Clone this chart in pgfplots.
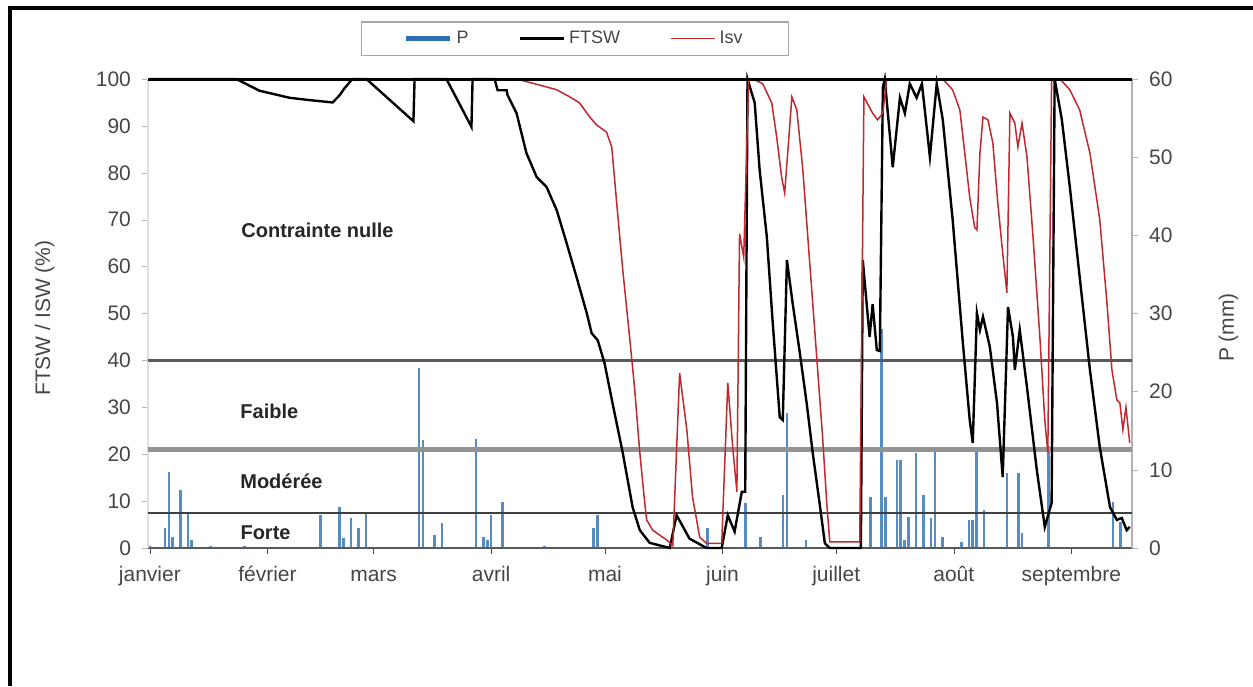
\documentclass[border=0pt]{standalone}
\usepackage{fontspec}
\setmainfont{Liberation Sans}
\usepackage{pgfplots}
\pgfplotsset{compat=1.18}

\definecolor{pblue}{RGB}{45,110,180}
\definecolor{isvred}{RGB}{192,40,45}
\definecolor{txtgray}{RGB}{70,70,70}

\begin{document}
\begin{tikzpicture}
  % jours comptés depuis le 1er janvier
  \pgfplotsset{
    base/.style={
      scale only axis, width=492pt, height=234.5pt,
      xmin=-0.5, xmax=259,
      /pgf/number format/assume math mode=true,
      tick label style={font=\fontsize{10.5}{12}\selectfont, text=txtgray},
      label style={font=\fontsize{10.5}{12}\selectfont, text=txtgray},
      tick align=outside, major tick length=3pt,
    }
  }
  % P (mm), axe de droite
  \begin{axis}[base,
      axis y line*=right, axis x line*=bottom,
      ymin=0, ymax=60, ytick={0,10,...,60},
      xtick={0,31,59,90,120,151,181,212,243},
      xticklabels={janvier,février,mars,avril,mai,juin,juillet,août,septembre},
      x axis line style={black!65, line width=0.8pt},
      y axis line style={gray!60, line width=0.8pt},
      xtick style={black!70}, ytick style={gray!60},
      yticklabel style={xshift=2pt},
      xticklabel style={yshift=-2pt, text height=1.6ex, text depth=0.4ex},
      ylabel={P (mm)},
      ylabel style={at={(axis description cs:1.098,0.47)}, anchor=center},
    ]
    \addplot[ycomb, pblue, opacity=0.8, line width=1.3pt] coordinates {
      (0,0.3) (4,2.6) (5,9.7) (6,1.4) (8,7.4) (10,4.5) (11,1.0) (16,0.2)
      (25,0.2) (45,4.2) (50,5.2) (51,1.3) (53,3.8) (55,2.6) (57,4.5)
      (71,23.0) (72,13.8) (75,1.7) (77,3.2) (86,14.0) (88,1.4) (89,1.0)
      (90,4.2) (93,5.9) (104,0.3) (117,2.6) (118,4.2) (147,2.6) (157,5.8)
      (161,1.4) (167,6.8) (168,17.3) (173,1.0) (190,6.5) (193,28.0)
      (194,6.5) (197,11.3) (198,11.3) (199,1.0) (200,4.0) (202,12.1)
      (204,6.8) (206,3.8) (207,12.5) (209,1.4) (214,0.8) (216,3.6)
      (217,3.6) (218,12.5) (220,4.9) (226,9.6) (229,9.6) (230,1.9)
      (237,13.0) (254,5.9) (256,3.3)
    };
  \end{axis}
  % FTSW et Isv (%), axe de gauche
  \begin{axis}[base,
      axis y line*=left, axis x line=none,
      ymin=0, ymax=100, ytick={0,10,...,100},
      y axis line style={gray!25, line width=0.8pt},
      ytick style={gray!60},
      yticklabel style={xshift=-2pt},
      clip=false,
      ylabel={FTSW / ISW (\%)},
      ylabel style={at={(axis description cs:-0.105,0.49)}, anchor=center},
      legend columns=3,
      legend image code/.code={\draw[#1] (0pt,0pt) -- (22pt,0pt);},
      legend style={at={(0.434,1.086)}, anchor=center,
        draw=gray!70, line width=0.8pt,
        font=\fontsize{9}{10}\selectfont, text=txtgray,
        inner xsep=21pt, inner ysep=2.5pt,
        /tikz/every even column/.append style={column sep=23pt}},
    ]
    \addlegendimage{pblue, line width=2.5pt}
    \addlegendentry{P}
    % seuils de contrainte
    \addplot[forget plot, black!65, line width=1.4pt] coordinates {(-0.5,40) (259,40)};
    \addplot[forget plot, gray!85, line width=2.8pt] coordinates {(-0.5,21) (259,21)};
    \addplot[forget plot, black!75, line width=0.8pt] coordinates {(-0.5,7.5) (259,7.5)};
    \addplot[black, line width=1.2pt] coordinates {
      (0,100) (22.8,100) (28.9,97.5) (36.8,96) (42.1,95.5) (48.2,95)
      (50.0,96.5) (51.3,98) (53.4,100) (57.1,100) (69.5,91) (69.8,100)
      (78.2,100) (84.8,89.8) (85.1,100) (90.9,100) (91.7,97.6) (94.1,97.6)
      (94.3,96.6) (96.7,92.7) (99.3,84.2) (102.0,79.1) (104.6,77)
      (107.3,72) (109.9,65) (112.5,57.8) (115.2,50.1) (116.5,45.8)
      (118.1,44.3) (119.9,39.4) (122.0,30.9) (124.7,20.3) (127.3,8.7)
      (129.2,3.8) (131.8,1.1) (137.1,0) (138.9,7) (142.3,2) (146.8,0)
      (150.8,0) (152.4,7) (154.2,3.5) (156.1,12) (157.0,12) (157.6,100)
      (159.5,94.9) (160.8,80.6) (162.7,66.3) (164.2,48.6) (166.1,27.9)
      (166.9,27.3) (168.0,61.4) (169.5,52.2) (171.4,41.6) (173.2,30.9)
      (174.8,20.3) (176.6,9.6) (178.0,1) (179.3,0) (187.5,0) (188.0,61.4)
      (189.8,45) (190.6,52) (191.7,42.2) (192.5,42) (193.3,98.3)
      (193.8,100) (195.9,81.2) (197.8,96) (199.1,92.7) (200.4,99)
      (202.2,96) (203.6,99) (205.7,83.4) (207.5,99) (209.1,91.3)
      (211.7,70) (214.4,43.7) (216.2,27.3) (217.0,22.4) (218.1,50.1)
      (218.9,46.5) (219.7,49.3) (221.5,42.9) (223.4,30.9) (224.9,15.1)
      (226.3,51.4) (227.6,45) (228.1,38) (229.4,46.5) (231.3,34.3)
      (233.9,16.6) (236.0,4.5) (237.8,9.6) (238.6,100) (240.5,91.3)
      (242.6,77) (245.2,57.8) (247.9,38) (250.5,21.5) (253.2,8.7)
      (255.0,6) (256.3,6.4) (257.6,3.8) (258.4,4.5)
    };
    \addlegendentry{FTSW}
    \addplot[isvred, line width=0.75pt] coordinates {
      (0,100) (96.7,100) (102.8,98.7) (107.3,97.7) (110.7,96.2)
      (113.3,94.9) (116.0,91.9) (117.8,90.2) (120.4,88.7) (121.8,85.5)
      (123.1,73.6) (124.7,59.3) (126.5,45) (127.8,34.3) (129.2,20.3)
      (130.5,9.6) (131.0,6) (132.6,3.8) (136.3,1.7) (137.9,0.5)
      (139.7,37.3) (141.6,25.2) (143.1,10.9) (145.0,2.3) (146.8,1)
      (150.8,1) (152.4,35.2) (153.7,21.5) (154.8,12) (155.5,67)
      (156.6,62) (157.9,100) (159.0,100) (161.6,99) (164.0,94.9)
      (165.3,87.6) (166.6,79.1) (167.4,75.7) (168.2,84.2) (169.3,96.2)
      (170.6,93.4) (172.2,80.6) (173.5,66.3) (174.8,52.2) (176.1,38)
      (177.4,23.7) (178.5,9.6) (179.3,1.3) (187.2,1.3) (188.3,96.2)
      (190.6,92.7) (191.9,91.3) (193.3,92.7) (194.3,100) (209.1,100)
      (211.7,97.7) (213.6,93.4) (214.9,84.2) (216.2,74.8) (217.5,68.4)
      (218.1,67.8) (218.9,84.2) (219.7,91.9) (221.0,91.3) (222.3,86.4)
      (223.6,73.6) (224.9,62.9) (226.0,54.4) (226.8,92.7) (228.1,90.6)
      (228.9,85.5) (230.0,90.6) (231.3,83.4) (232.9,66.3) (234.7,45)
      (236.0,27.3) (236.8,20.3) (237.8,100) (240.0,100) (242.6,97.7)
      (245.2,93.4) (247.9,84.2) (250.5,70) (252.4,52.2) (253.7,38)
      (255.0,31.6) (255.8,30.9) (256.6,25.2) (257.4,30) (258.4,22.4)
    };
    \addlegendentry{Isv}
    % ligne du haut, par-dessus les courbes
    \addplot[forget plot, black, line width=1.5pt] coordinates {(-0.5,100) (259,100)};
    \node[font=\bfseries\fontsize{10}{12}\selectfont, text=black!85] at (axis cs:44.2,67.8) {Contrainte nulle};
    \node[font=\bfseries\fontsize{10}{12}\selectfont, text=black!85] at (axis cs:31.5,29.2) {Faible};
    \node[font=\bfseries\fontsize{10}{12}\selectfont, text=black!85] at (axis cs:34.7,14.3) {Modérée};
    \node[font=\bfseries\fontsize{10}{12}\selectfont, text=black!85] at (axis cs:30.5,3.2) {Forte};
  \end{axis}
  % cadre de la figure (bords gauche et haut)
  \draw[line width=2pt] (-68.75pt,-69pt) -- (-68.75pt,269.75pt) -- (552.5pt,269.75pt);
  \pgfresetboundingbox
  \useasboundingbox (-74pt,-69pt) rectangle (552.5pt,274pt);
\end{tikzpicture}
\end{document}
